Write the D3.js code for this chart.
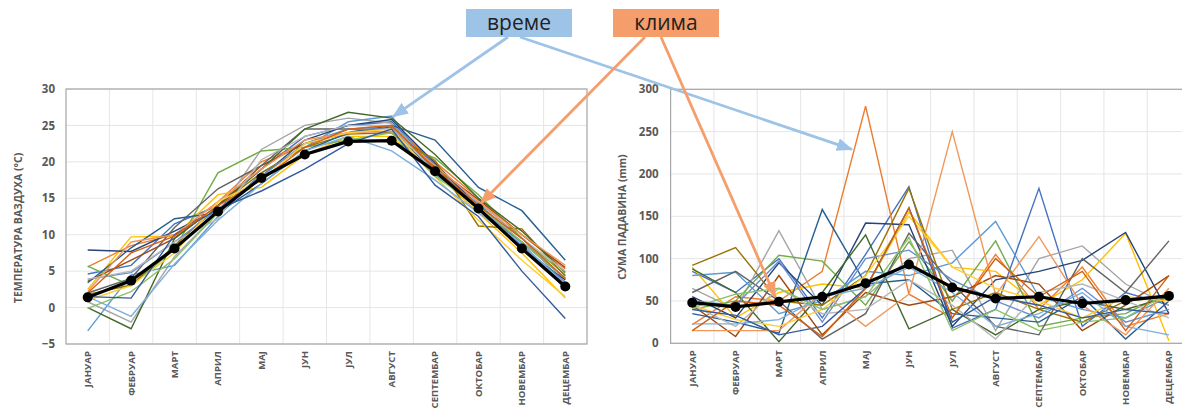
<!DOCTYPE html>
<html>
<head>
<meta charset="utf-8">
<script src="https://cdn.jsdelivr.net/npm/d3@7"></script>
<style>
  html, body { margin: 0; padding: 0; background: #fff; }
  svg { display: block; }
  text { font-family: "Open Sans", "Noto Sans", sans-serif; }
</style>
</head>
<body>
<svg id="chart" width="1182" height="408"></svg>
<script>
// Month categories (Serbian Cyrillic)
const months = ["ЈАНУАР", "ФЕБРУАР", "МАРТ", "АПРИЛ", "МАЈ", "ЈУН", "ЈУЛ",
  "АВГУСТ", "СЕПТЕМБАР", "ОКТОБАР", "НОВЕМБАР", "ДЕЦЕМБАР"];

// Series colours, in order of the yearly series
const seriesColors = ["#4472C4", "#ED7D31", "#A5A5A5", "#FFC000", "#5B9BD5", "#70AD47",
  "#264478", "#9E480E", "#636363", "#997300", "#255E91", "#43682B",
  "#698ED0", "#F1975A", "#B7B7B7", "#FFCD33", "#7CAFDD", "#8CC168",
  "#335AA1", "#D26012"];

// Monthly mean air temperature (°C) for individual years
const tempYears = [
  [4.6, 5.8, 11.5, 14.0, 19.0, 23.5, 25.0, 25.5, 19.5, 14.0, 9.0, 4.0],
  [5.6, 8.5, 10.0, 14.5, 20.0, 22.5, 24.5, 25.0, 20.0, 15.0, 10.0, 5.3],
  [0.8, -2.0, 7.0, 13.0, 21.7, 25.0, 26.0, 25.3, 19.0, 14.5, 9.5, 3.2],
  [2.5, 9.7, 9.8, 15.5, 16.5, 21.0, 23.5, 23.5, 18.5, 13.0, 7.5, 1.3],
  [-3.2, 4.5, 5.8, 12.5, 18.5, 22.0, 25.5, 26.3, 18.2, 14.3, 8.8, 2.5],
  [5.7, 3.0, 8.0, 18.5, 21.5, 22.0, 23.0, 22.8, 20.5, 15.5, 9.5, 4.5],
  [7.9, 7.7, 10.5, 13.5, 18.0, 23.0, 25.0, 25.8, 19.8, 13.8, 8.0, 3.8],
  [3.6, 6.5, 9.5, 14.0, 19.5, 22.5, 24.0, 24.8, 19.3, 14.8, 10.0, 5.5],
  [2.0, 4.0, 11.0, 16.3, 19.5, 24.5, 24.5, 24.0, 18.8, 13.5, 9.0, 4.0],
  [1.8, 3.1, 8.5, 14.0, 18.5, 22.0, 23.8, 24.0, 20.2, 11.2, 10.8, 4.3],
  [3.4, 8.2, 12.2, 13.0, 17.0, 21.5, 24.0, 25.0, 23.0, 16.5, 13.3, 6.5],
  [0.0, -2.9, 9.5, 14.0, 19.0, 24.5, 26.8, 26.0, 21.0, 15.0, 10.5, 4.8],
  [3.9, 4.8, 9.0, 13.5, 18.0, 22.5, 24.5, 24.5, 19.0, 14.0, 8.5, 3.5],
  [2.2, 9.0, 10.0, 14.5, 19.0, 23.0, 24.0, 24.2, 19.5, 14.5, 10.0, 5.8],
  [3.9, 5.0, 9.0, 12.2, 20.3, 23.5, 25.0, 25.0, 18.5, 13.8, 9.5, 5.0],
  [1.0, 3.0, 7.5, 14.5, 17.5, 22.5, 24.0, 24.5, 18.0, 12.0, 6.5, 1.5],
  [1.5, -1.2, 6.0, 12.0, 17.0, 21.5, 23.5, 21.5, 17.5, 13.0, 8.8, 3.0],
  [-0.1, 2.2, 6.7, 13.0, 18.0, 21.0, 23.0, 24.0, 18.0, 14.0, 9.0, 4.0],
  [1.5, 1.3, 10.0, 13.5, 16.0, 19.0, 22.5, 24.5, 16.8, 12.5, 5.0, -1.5],
  [2.0, 7.5, 9.8, 14.0, 17.5, 22.0, 24.5, 25.0, 19.0, 14.0, 9.5, 4.0]
];
// Long-term monthly mean temperature (climate)
const tempClimate = [1.4, 3.7, 8.1, 13.2, 17.8, 21.0, 22.8, 22.9, 18.7, 13.6, 8.1, 2.9];
const tempTicks = [-5, 0, 5, 10, 15, 20, 25, 30];

// Monthly precipitation totals (mm) for individual years
const precipYears = [
  [85, 60, 100, 30, 105, 185, 18, 40, 183, 20, 60, 45],
  [22, 55, 50, 85, 280, 58, 30, 105, 40, 90, 20, 35],
  [65, 40, 133, 40, 55, 100, 110, 15, 100, 115, 70, 45],
  [90, 30, 60, 70, 65, 155, 90, 85, 45, 75, 130, 3],
  [80, 84, 35, 50, 85, 80, 95, 144, 55, 40, 30, 55],
  [40, 50, 104, 97, 45, 120, 50, 121, 20, 30, 35, 60],
  [55, 30, 95, 45, 142, 140, 20, 75, 85, 98, 131, 35],
  [45, 8, 80, 10, 60, 45, 55, 80, 70, 15, 45, 80],
  [60, 85, 50, 5, 35, 130, 70, 20, 10, 100, 60, 121],
  [92, 113, 50, 45, 80, 183, 40, 60, 40, 25, 50, 55],
  [35, 25, 12, 158, 70, 75, 35, 30, 25, 55, 5, 50],
  [88, 60, 2, 60, 128, 17, 40, 10, 40, 50, 40, 55],
  [50, 45, 97, 25, 100, 110, 75, 50, 30, 65, 25, 40],
  [15, 15, 15, 60, 20, 58, 250, 57, 126, 45, 10, 65],
  [45, 20, 65, 35, 40, 75, 45, 5, 60, 70, 50, 30],
  [45, 28, 20, 40, 80, 150, 90, 65, 50, 30, 55, 50],
  [23, 23, 28, 55, 65, 90, 60, 20, 35, 60, 20, 10],
  [42, 58, 65, 40, 55, 125, 15, 40, 15, 25, 30, 60],
  [40, 33, 10, 20, 65, 160, 25, 55, 45, 30, 40, 35],
  [15, 50, 45, 8, 65, 160, 30, 100, 55, 85, 15, 80]
];
// Long-term monthly mean precipitation (climate)
const precipClimate = [48, 43, 49, 55, 71, 93, 66, 53, 55, 47, 51, 56];
const precipTicks = [0, 50, 100, 150, 200, 250, 300];

const svg = d3.select("#chart");
const textColor = "#595959";

function drawPanel(cfg) {
  const x = d3.scaleBand().domain(months).range([cfg.left, cfg.right]).padding(0);
  const y = d3.scaleLinear().domain(cfg.domain).range([cfg.bottom, cfg.top]);
  const g = svg.append("g");

  // horizontal gridlines
  g.append("g").selectAll("line").data(cfg.ticks).join("line")
    .attr("x1", cfg.left).attr("x2", cfg.right)
    .attr("y1", d => y(d)).attr("y2", d => y(d))
    .attr("stroke", "#e6e6e6").attr("stroke-width", 1);

  // vertical gridlines at category boundaries
  g.append("g").selectAll("line").data(months.slice(1)).join("line")
    .attr("x1", d => x(d)).attr("x2", d => x(d))
    .attr("y1", cfg.top).attr("y2", cfg.bottom)
    .attr("stroke", "#e6e6e6").attr("stroke-width", 1);

  // plot frame
  g.append("rect")
    .attr("x", cfg.left).attr("y", cfg.top)
    .attr("width", cfg.right - cfg.left).attr("height", cfg.bottom - cfg.top)
    .attr("fill", "none").attr("stroke", "#a6a6a6").attr("stroke-width", 1.2);

  // y axis tick labels
  const yAxis = d3.axisLeft(y).tickValues(cfg.ticks).tickSize(0).tickPadding(cfg.tickPad);
  const ya = g.append("g").attr("transform", `translate(${cfg.left},0)`).call(yAxis);
  ya.select(".domain").remove();
  ya.selectAll("text")
    .attr("fill", textColor).attr("font-size", 11.5).attr("font-weight", 700)
    .style("font-family", '"Open Sans", sans-serif');

  // x axis month labels, rotated
  const xAxis = d3.axisBottom(x).tickSize(0).tickPadding(0);
  const xa = g.append("g").attr("transform", `translate(0,${cfg.bottom})`).call(xAxis);
  xa.select(".domain").remove();
  xa.selectAll("text")
    .attr("transform", "rotate(-90)")
    .attr("x", -7).attr("y", 0).attr("dy", "0.35em")
    .attr("text-anchor", "end")
    .attr("fill", textColor).attr("font-size", 9.6).attr("font-weight", 700)
    .style("font-family", '"Open Sans", sans-serif');

  // y axis title
  g.append("text")
    .attr("transform", `translate(${cfg.titleX},${cfg.titleY}) rotate(-90)`)
    .attr("text-anchor", "middle").attr("dy", "0.35em")
    .attr("fill", textColor).attr("font-size", 10.5).attr("font-weight", 700)
    .text(cfg.title);

  const line = d3.line()
    .x((d, i) => x(months[i]) + x.bandwidth() / 2)
    .y(d => y(d));

  // yearly series
  g.append("g").selectAll("path").data(cfg.series).join("path")
    .attr("d", line)
    .attr("fill", "none")
    .attr("stroke", (d, i) => seriesColors[i % seriesColors.length])
    .attr("stroke-width", 1.4)
    .attr("stroke-linejoin", "miter");

  // climate mean line with markers
  g.append("path").datum(cfg.mean)
    .attr("d", line)
    .attr("fill", "none").attr("stroke", "#000").attr("stroke-width", 3.2);
  g.append("g").selectAll("circle").data(cfg.mean).join("circle")
    .attr("cx", (d, i) => x(months[i]) + x.bandwidth() / 2)
    .attr("cy", d => y(d))
    .attr("r", 5).attr("fill", "#000");

  return { x, y };
}

const left = drawPanel({
  left: 66, right: 587, top: 89, bottom: 344,
  domain: [-5, 30], ticks: tempTicks, tickPad: 11,
  series: tempYears, mean: tempClimate,
  title: "ТЕМПЕРАТУРА ВАЗДУХА (°C)", titleX: 18, titleY: 228
});

const right = drawPanel({
  left: 670.6, right: 1190.6, top: 89.3, bottom: 343.3,
  domain: [0, 300], ticks: precipTicks, tickPad: 12,
  series: precipYears, mean: precipClimate,
  title: "СУМА ПАДАВИНА (mm)", titleX: 622, titleY: 217
});

// Annotation labels with arrows pointing into both panels
const defs = svg.append("defs");
function marker(id, color) {
  defs.append("marker")
    .attr("id", id).attr("viewBox", "0 0 16 13")
    .attr("refX", 15).attr("refY", 6.5)
    .attr("markerWidth", 16).attr("markerHeight", 13)
    .attr("markerUnits", "userSpaceOnUse")
    .attr("orient", "auto")
    .append("path").attr("d", "M0,0 L16,6.5 L0,13 Z").attr("fill", color);
}
const weatherColor = "#9DC3E6";
const climateColor = "#F59D6B";
marker("arrowWeather", weatherColor);
marker("arrowClimate", climateColor);

const labels = [
  { text: "време", x: 466, w: 106, color: weatherColor, marker: "arrowWeather",
    arrows: [
      { from: [508, 37], to: [left.x("АВГУСТ") + 23, left.y(26.2)] },
      { from: [520, 37], to: [right.x("МАЈ") + 8, right.y(229)] }
    ] },
  { text: "клима", x: 613, w: 106, color: climateColor, marker: "arrowClimate",
    arrows: [
      { from: [645, 37], to: [left.x("ОКТОБАР") + 24, left.y(14.3)] },
      { from: [661, 37], to: [right.x("МАРТ") + 18, right.y(55)] }
    ] }
];

const ann = svg.append("g");
labels.forEach(l => {
  l.arrows.forEach(a => {
    ann.append("line")
      .attr("x1", a.from[0]).attr("y1", a.from[1])
      .attr("x2", a.to[0]).attr("y2", a.to[1])
      .attr("stroke", l.color).attr("stroke-width", 2.8)
      .attr("marker-end", `url(#${l.marker})`);
  });
  ann.append("rect")
    .attr("x", l.x).attr("y", 9).attr("width", l.w).attr("height", 28)
    .attr("fill", l.color);
  ann.append("text")
    .attr("x", l.x + l.w / 2).attr("y", 23).attr("dy", "0.35em")
    .attr("text-anchor", "middle")
    .attr("font-size", 21).attr("fill", "#222")
    .text(l.text);
});
</script>
</body>
</html>
